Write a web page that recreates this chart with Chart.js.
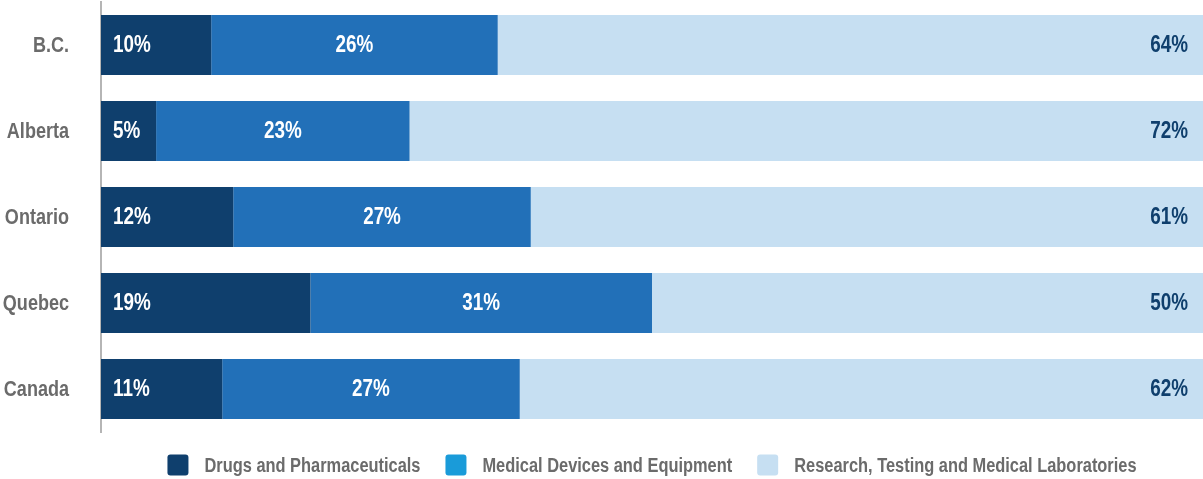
<!DOCTYPE html>
<html>
<head>
<meta charset="utf-8">
<title>Sector share by province</title>
<script src="https://cdn.jsdelivr.net/npm/chart.js@4.4.1/dist/chart.umd.min.js"></script>
<style>
  html, body { margin: 0; padding: 0; background: #ffffff; }
  #wrap { width: 1203px; height: 479px; }
</style>
</head>
<body>
<div id="wrap"><canvas id="sectorChart" width="1203" height="479"></canvas></div>
<script>
// data
const regions = ["B.C.", "Alberta", "Ontario", "Quebec", "Canada"];
const seriesNames = [
  "Drugs and Pharmaceuticals",
  "Medical Devices and Equipment",
  "Research, Testing and Medical Laboratories"
];
const drugs = [10, 5, 12, 19, 11];
const devices = [26, 23, 27, 31, 27];
const research = [64, 72, 61, 50, 62];

// no condensed face installed, so text gets squeezed horizontally
const FONT = "'Liberation Sans', Arial, sans-serif";
const SQUEEZE = 0.82;
const barColors = ["#0f3f6d", "#2270b8", "#c6dff2"];
const legendColors = ["#0f3f6d", "#1a9bd9", "#c6dff2"];
const labelColors = ["#ffffff", "#ffffff", "#0f3f6d"];
const greyText = "#6b6b6b";

function narrowText(ctx, text, x, y, align) {
  ctx.save();
  ctx.translate(x, y);
  ctx.scale(SQUEEZE, 1);
  ctx.textAlign = align;
  ctx.fillText(text, 0, 0);
  ctx.restore();
}

// category names left of the axis
const regionLabels = {
  id: "regionLabels",
  afterDraw(chart) {
    const ctx = chart.ctx;
    const yScale = chart.scales.y;
    ctx.save();
    ctx.font = "bold 22px " + FONT;
    ctx.fillStyle = greyText;
    ctx.textBaseline = "middle";
    chart.data.labels.forEach((name, i) => {
      narrowText(ctx, name, yScale.right - 32, yScale.getPixelForTick(i) + 1, "right");
    });
    ctx.restore();
  }
};

// writes the percentage into each segment
const segmentLabels = {
  id: "segmentLabels",
  afterDatasetsDraw(chart) {
    const ctx = chart.ctx;
    ctx.save();
    ctx.font = "bold 23px " + FONT;
    ctx.textBaseline = "middle";
    chart.data.datasets.forEach((ds, i) => {
      const meta = chart.getDatasetMeta(i);
      meta.data.forEach((bar, j) => {
        const text = ds.data[j] + "%";
        ctx.fillStyle = labelColors[i];
        if (i === 0) {
          narrowText(ctx, text, bar.base + 12, bar.y + 1, "left");
        } else if (i === 1) {
          narrowText(ctx, text, (bar.base + bar.x) / 2, bar.y + 1, "center");
        } else {
          narrowText(ctx, text, bar.x - 15, bar.y + 1, "right");
        }
      });
    });
    ctx.restore();
  }
};

// legend row under the plot, centred on the chart area
const bottomLegend = {
  id: "bottomLegend",
  afterDraw(chart) {
    const ctx = chart.ctx;
    const area = chart.chartArea;
    const box = 21, gapText = 16, gapItem = 25;
    ctx.save();
    ctx.font = "bold 20px " + FONT;
    const widths = seriesNames.map(n => ctx.measureText(n).width * SQUEEZE);
    let total = 0;
    widths.forEach((w, i) => { total += box + gapText + w + (i < widths.length - 1 ? gapItem : 0); });
    let x = (area.left + area.right) / 2 - total / 2;
    const cy = 465;
    seriesNames.forEach((name, i) => {
      ctx.fillStyle = legendColors[i];
      ctx.beginPath();
      ctx.roundRect(x, cy - box / 2, box, box, 3);
      ctx.fill();
      ctx.fillStyle = greyText;
      ctx.textBaseline = "middle";
      narrowText(ctx, name, x + box + gapText, cy + 1, "left");
      x += box + gapText + widths[i] + gapItem;
    });
    ctx.restore();
  }
};

const datasets = [drugs, devices, research].map((values, i) => ({
  label: seriesNames[i],
  data: values,
  backgroundColor: barColors[i],
  borderWidth: 0,
  barPercentage: 0.7,
  categoryPercentage: 1
}));

new Chart(document.getElementById("sectorChart"), {
  type: "bar",
  data: { labels: regions, datasets: datasets },
  options: {
    indexAxis: "y",
    responsive: false,
    animation: false,
    layout: { padding: { top: 2, right: 0, bottom: 47, left: 0 } },
    plugins: {
      legend: { display: false },
      tooltip: { enabled: false }
    },
    scales: {
      x: {
        stacked: true,
        display: false,
        min: 0,
        max: 100
      },
      y: {
        stacked: true,
        grid: { display: false, drawTicks: false },
        border: { display: true, color: "#b5b5b5", width: 2 },
        ticks: { display: false },
        afterFit(scale) {
          scale.width = 101;
          scale.paddingTop = 0;
          scale.paddingBottom = 0;
        }
      }
    }
  },
  plugins: [segmentLabels, regionLabels, bottomLegend]
});
</script>
</body>
</html>
